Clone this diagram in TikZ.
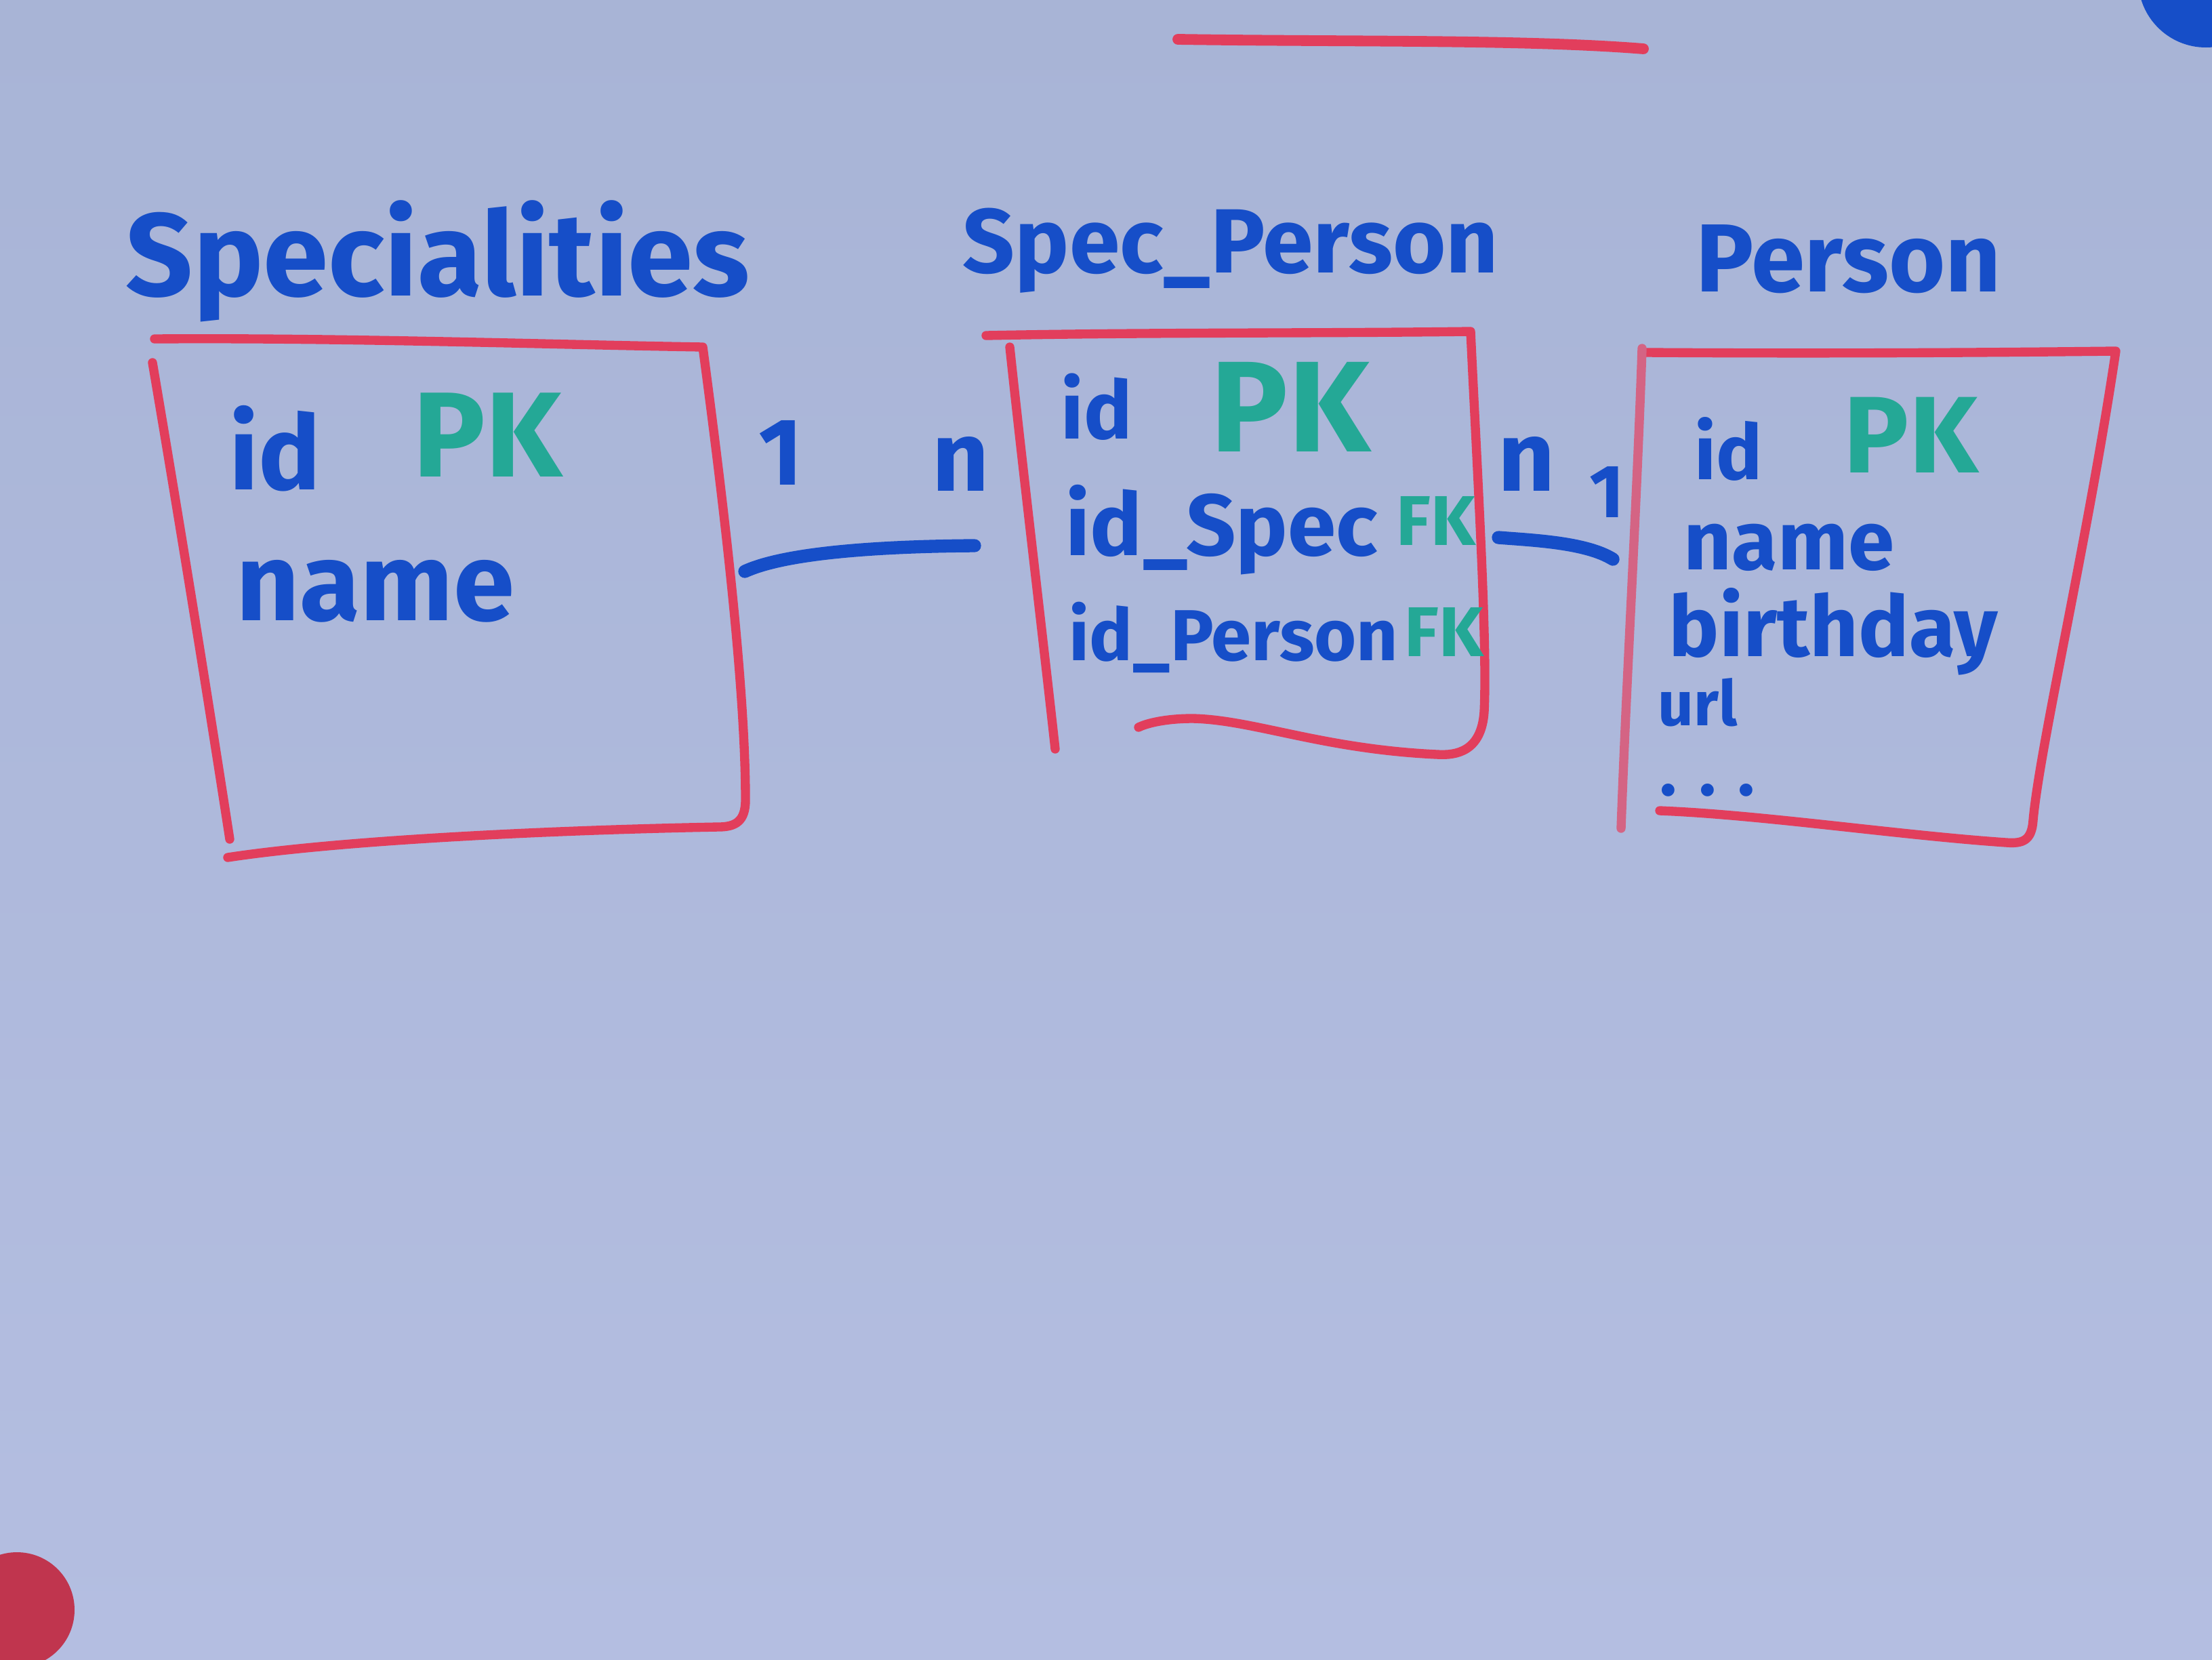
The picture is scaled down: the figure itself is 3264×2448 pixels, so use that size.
\documentclass[tikz,border=0pt]{standalone}
\usepackage{fontspec}
\usepackage{graphicx}
\setmainfont{Fira Sans}
\definecolor{boardbg}{RGB}{180,190,225}
\definecolor{boardtop}{RGB}{168,180,214}
\definecolor{mblue}{RGB}{22,78,200}
\definecolor{mgreen}{RGB}{36,168,150}
\definecolor{mred}{RGB}{226,62,92}
\newcommand{\fw}[2]{\resizebox{#1cm}{!}{\bfseries #2}}
\newcommand{\fh}[2]{\resizebox{!}{#1cm}{\bfseries #2}}
\tikzset{
  redline/.style={draw=mred, line width=3.8pt, line cap=round, line join=round},
  blueline/.style={draw=mblue, line width=5.5pt, line cap=round},
  wtxt/.style={inner sep=0pt, anchor=west, text=mblue},
  gtxt/.style={inner sep=0pt, anchor=west, text=mgreen},
  lbl/.style={inner sep=0pt, text=mblue},
  boxarea/.style={inner sep=0pt, draw=none}
}
\begin{document}
\begin{tikzpicture}[x=0.01cm, y=-0.01cm]
\useasboundingbox (0,0) rectangle (3264,2448);
\shade[top color=boardtop, bottom color=boardbg] (0,0) rectangle (3264,2448);
% magnets
\fill[mblue] (3255,-30) circle (100);
\fill[mred!85!black] (25,2375) circle (85);
% title underline at top
\draw[redline, line width=4.5pt] (1738,58) .. controls (2000,62) and (2250,58) .. (2425,72);
% titles
\node[wtxt] (tspec) at (185,385) {\fw{9.2}{Specialities}};
\node[wtxt] (tsp) at (1420,370) {\fw{7.9}{Spec\_Person}};
\node[wtxt] (tper) at (2502,382) {\fw{4.5}{Person}};
% box areas (invisible)
\node[boxarea, minimum width=8.6cm, minimum height=7.4cm] (specbox) at (660,880) {};
\node[boxarea, minimum width=7.0cm, minimum height=6.0cm] (spbox) at (1820,800) {};
\node[boxarea, minimum width=7.0cm, minimum height=7.0cm] (perbox) at (2760,880) {};
% Specialities box outline
\draw[redline] (228,500) .. controls (500,498) and (800,508) .. (1037,512)
  .. controls (1062,700) and (1100,1000) .. (1100,1180)
  .. controls (1100,1212) and (1085,1220) .. (1060,1220)
  .. controls (800,1225) and (500,1240) .. (336,1265);
\draw[redline] (225,535) .. controls (270,800) and (310,1050) .. (339,1238);
% Spec_Person box outline
\draw[redline] (1455,495) .. controls (1700,490) and (1950,492) .. (2170,489)
  .. controls (2180,700) and (2195,950) .. (2190,1050)
  .. controls (2186,1108) and (2150,1115) .. (2120,1113)
  .. controls (1950,1105) and (1850,1062) .. (1760,1060)
  .. controls (1720,1060) and (1692,1067) .. (1680,1073);
\draw[redline] (1490,512) .. controls (1510,700) and (1540,950) .. (1557,1105);
% Person box outline
\draw[redline] (2430,520) .. controls (2700,522) and (2950,520) .. (3122,518)
  .. controls (3080,800) and (3010,1100) .. (3000,1210)
  .. controls (2998,1240) and (2985,1245) .. (2960,1243)
  .. controls (2800,1232) and (2600,1202) .. (2449,1196);
\draw[redline, draw=mred!70!boardbg] (2423,514) .. controls (2415,750) and (2400,1000) .. (2392,1222);
% Specialities contents
\node[wtxt] (sid) at (338,662) {\fw{1.35}{id}};
\node[gtxt] (spk) at (609,642) {\fw{2.2}{PK}};
\node[wtxt] (sname) at (348,872) {\fw{4.1}{name}};
% Spec_Person contents
\node[wtxt] (pid) at (1565,600) {\fw{1.05}{id}};
\node[gtxt] (ppk) at (1786,600) {\fw{2.35}{PK}};
\node[wtxt] (pidspec) at (1572,782) {\fw{4.6}{id\_Spec}};
\node[gtxt] (pfk1) at (2060,768) {\fh{0.72}{FK}};
\node[wtxt] (pidper) at (1577,940) {\fw{4.85}{id\_Person}};
\node[gtxt] (pfk2) at (2072,932) {\fh{0.72}{FK}};
% Person contents
\node[wtxt] (rid) at (2500,662) {\fw{1.0}{id}};
\node[gtxt] (rpk) at (2720,642) {\fw{1.98}{PK}};
\node[wtxt] (rname) at (2484,808) {\fw{3.1}{name}};
\node[wtxt] (rbday) at (2462,932) {\fw{4.85}{birthday}};
\node[wtxt] (rurl) at (2446,1036) {\fh{0.7}{url}};
\node[wtxt] (rdots) at (2449,1166) {\fw{1.4}{. . .}};
% cardinalities
\node[lbl] (c11) at (1152,668) {\fh{0.95}{1}};
\node[lbl] (cn1) at (1418,684) {\fh{0.8}{n}};
\node[lbl] (cn2) at (2253,684) {\fh{0.8}{n}};
\node[lbl] (c12) at (2371,726) {\fh{0.75}{1}};
% connectors
\coordinate (ca) at (1099,843);
\coordinate (cb) at (1438,805);
\coordinate (cc) at (2211,793);
\coordinate (cd) at (2380,825);
\draw[blueline] (ca) .. controls (1160,815) and (1300,806) .. (cb);
\draw[blueline] (cc) .. controls (2260,797) and (2340,800) .. (cd);
\end{tikzpicture}
\end{document}
